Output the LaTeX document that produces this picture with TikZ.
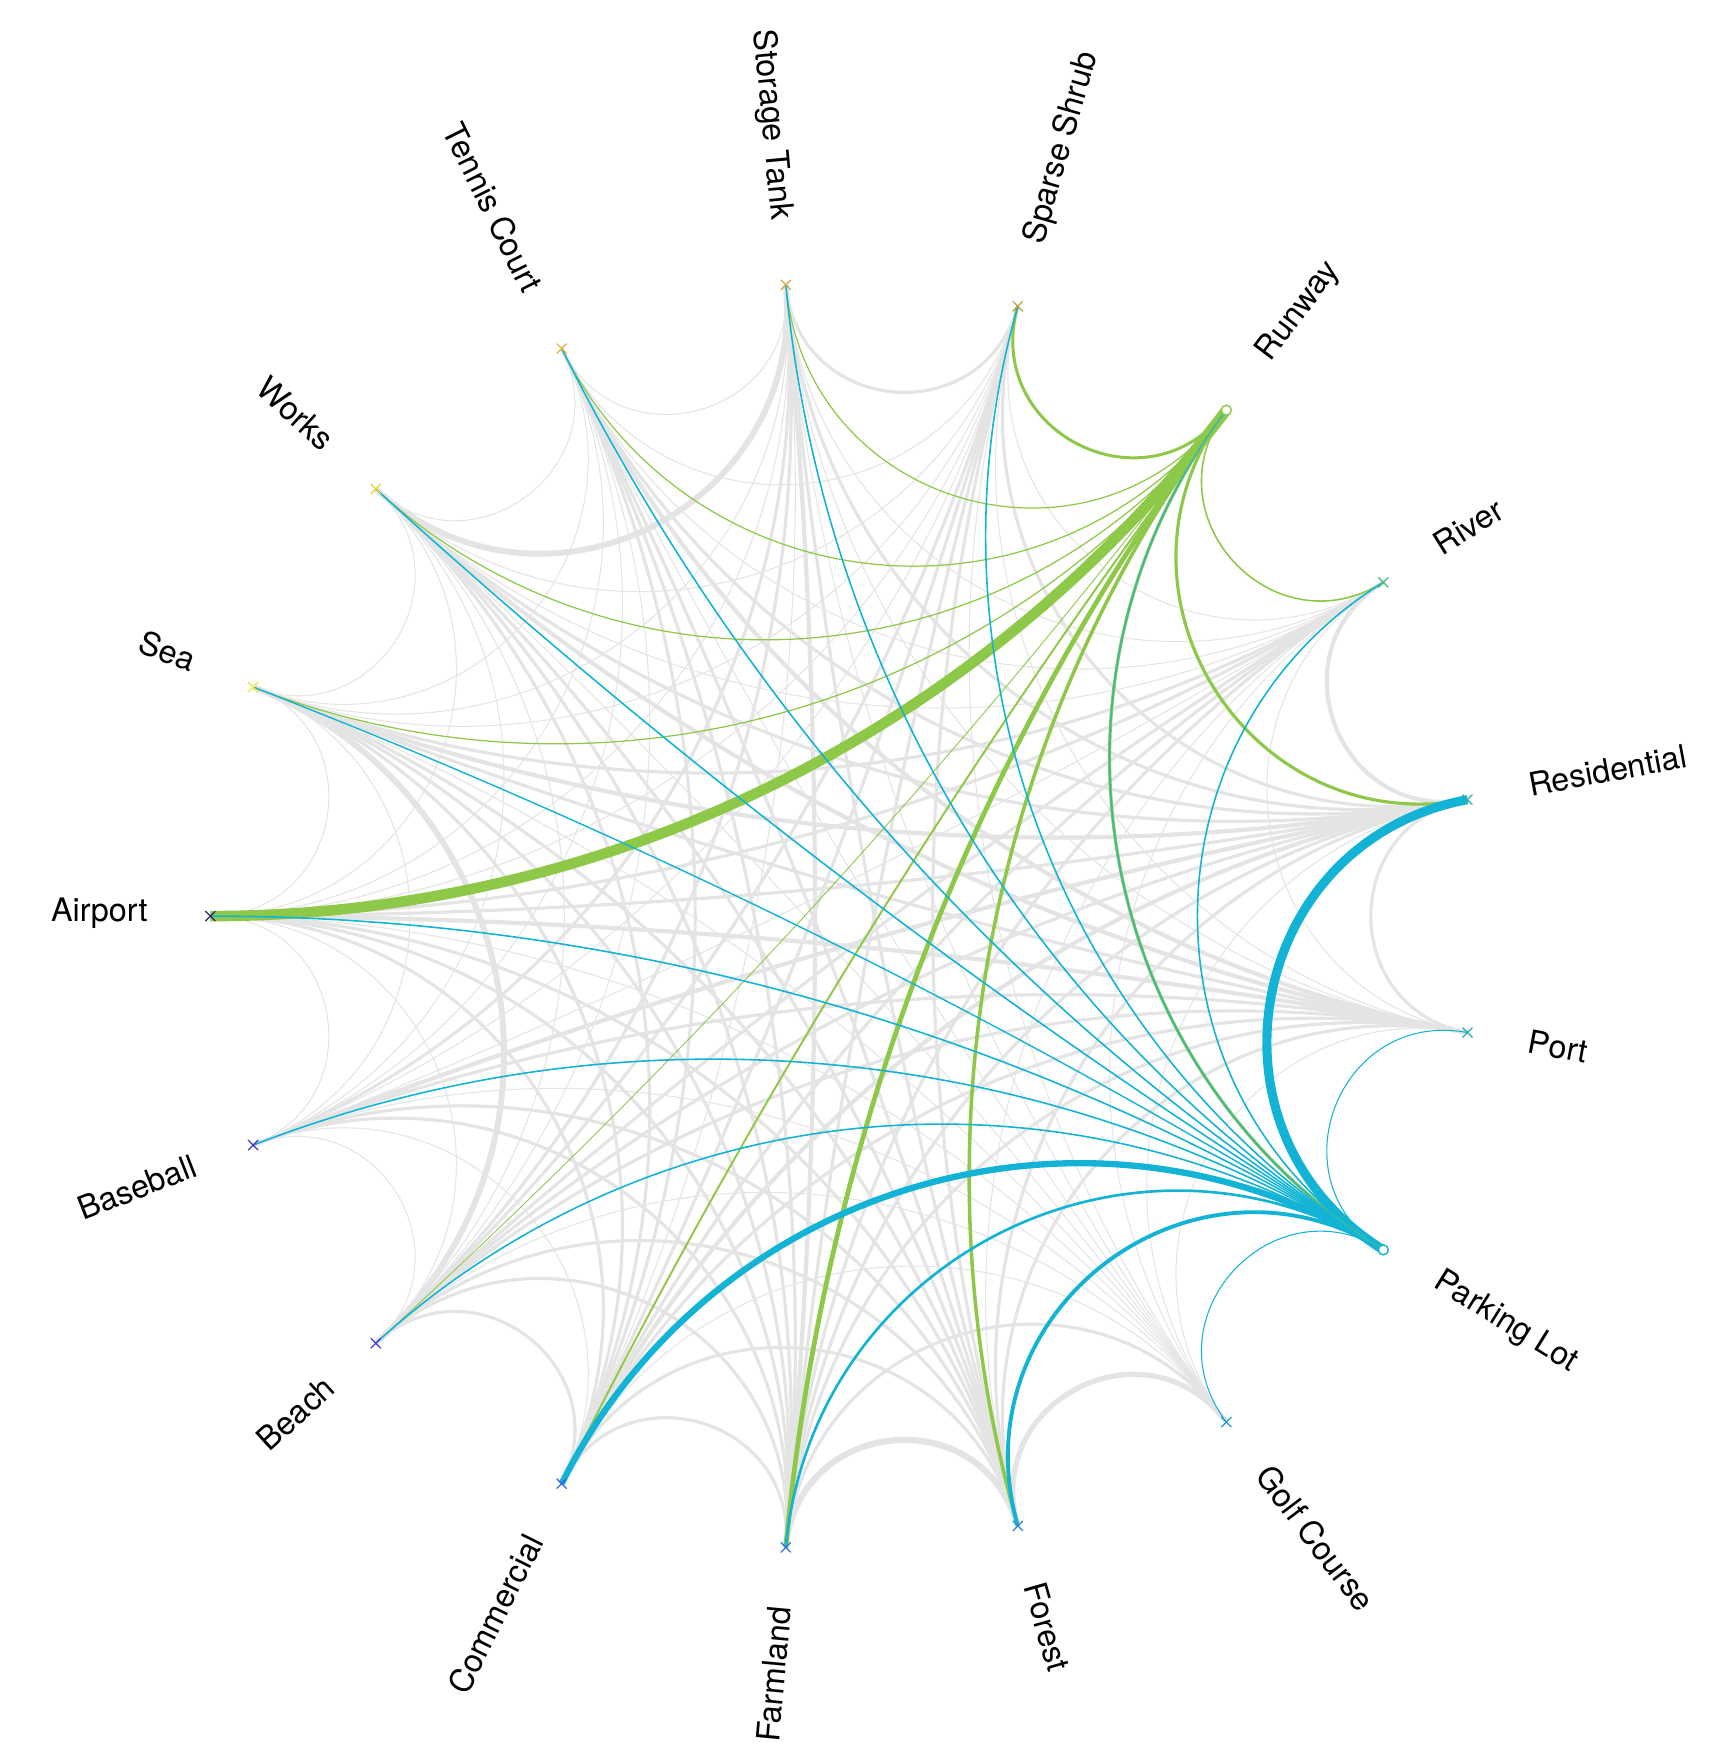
\documentclass[tikz,border=0pt]{standalone}
\usepackage{fontspec}
\setmainfont{TeX Gyre Heros}
\usetikzlibrary{calc}

\definecolor{linkgray}{RGB}{228,228,228}
\definecolor{rungreen}{RGB}{141,200,72}
\definecolor{parkblue}{RGB}{18,179,212}
% marker colours
\definecolor{cAirport}{RGB}{45,35,105}
\definecolor{cSea}{RGB}{240,232,60}
\definecolor{cWorks}{RGB}{232,212,55}
\definecolor{cTennis}{RGB}{228,180,55}
\definecolor{cStorage}{RGB}{212,168,62}
\definecolor{cSparse}{RGB}{192,160,62}
\definecolor{cRiver}{RGB}{60,190,120}
\definecolor{cResidential}{RGB}{40,182,160}
\definecolor{cPort}{RGB}{30,180,180}
\definecolor{cGolf}{RGB}{30,162,202}
\definecolor{cForest}{RGB}{40,140,205}
\definecolor{cFarmland}{RGB}{50,118,212}
\definecolor{cCommercial}{RGB}{50,100,220}
\definecolor{cBeach}{RGB}{70,62,210}
\definecolor{cBaseball}{RGB}{72,52,200}

% geodesic chord between two points of the circle
\newcommand\chord[3][]{%
  \pgfmathanglebetweenpoints{\pgfpointanchor{centre}{center}}{\pgfpointanchor{#2}{center}}\let\angA\pgfmathresult
  \pgfmathanglebetweenpoints{\pgfpointanchor{centre}{center}}{\pgfpointanchor{#3}{center}}\let\angB\pgfmathresult
  \pgfmathsetmacro\sh{abs(sin((\angA-\angB)/2))}%
  \pgfmathsetmacro\cl{4/3*\sh/(1+\sh)}%
  \draw[#1] (#2) .. controls ($(#2)!\cl!(centre)$) and ($(#3)!\cl!(centre)$) .. (#3);}

\tikzset{
  link/.style={draw=linkgray, line width=#1},
  link/.default=0.3pt,
  lab/.style={font=\fontsize{9.2}{11}\selectfont, inner sep=0pt},
  cross/.style={draw=#1, line width=0.35pt},
}

\begin{document}
\begin{tikzpicture}
  \useasboundingbox (-8.443,-8.419) rectangle (8.917,9.161);
  \def\R{6.34}
  \coordinate (centre) at (0,0);

  % points and labels
  \foreach \name/\txt [count=\k from 0] in {airport/Airport, sea/Sea, works/Works,
      tennis/Tennis Court, storage/Storage Tank, sparse/Sparse Shrub, runway/Runway,
      river/River, residential/Residential, port/Port, parking/Parking Lot,
      golf/Golf Course, forest/Forest, farmland/Farmland, commercial/Commercial,
      beach/Beach, baseball/Baseball} {
    \pgfmathsetmacro\ang{180-\k*360/17}
    \coordinate (\name) at (\ang:\R);
    \ifdim \ang pt>90pt
      \pgfmathsetmacro\rot{\ang-180}\def\anc{east}
    \else\ifdim \ang pt<-90pt
      \pgfmathsetmacro\rot{\ang+180}\def\anc{east}
    \else
      \pgfmathsetmacro\rot{\ang}\def\anc{west}
    \fi\fi
    \node[lab, rotate=\rot, anchor=\anc] (l-\name) at ($(\ang:6.96)+(0,0.03)$) {\txt};
  }

  % grey links, thin ones first
  \foreach \a [count=\i] in {airport,sea,works,tennis,storage,sparse,river,residential,port,golf,forest,farmland,commercial,beach,baseball} {
    \foreach \b [count=\j] in {airport,sea,works,tennis,storage,sparse,river,residential,port,golf,forest,farmland,commercial,beach,baseball} {
      \ifnum\j>\i \chord[link]{\a}{\b}\fi
    }
  }
  % heavier grey links
  \foreach \a/\b/\w in {
      storage/sparse/0.9, residential/port/0.9, farmland/commercial/0.9,
      commercial/beach/0.9, forest/commercial/0.9, golf/farmland/0.9,
      farmland/beach/0.9, airport/residential/0.9, works/residential/0.9,
      tennis/residential/0.9, storage/residential/0.9, sparse/residential/0.9,
      residential/forest/0.9, residential/farmland/0.9, residential/beach/0.9,
      port/forest/0.9, port/farmland/0.9, port/commercial/0.9, port/beach/0.9,
      port/baseball/0.9, sea/port/0.9, storage/forest/0.9, sparse/farmland/0.9,
      sparse/forest/0.9, sparse/commercial/0.9, tennis/farmland/0.9,
      tennis/forest/0.9, works/forest/0.9, works/farmland/0.9, airport/forest/0.9,
      airport/farmland/0.9, airport/commercial/0.9, sea/forest/0.9,
      sea/commercial/0.9, baseball/forest/0.9, baseball/farmland/0.9,
      beach/forest/0.9, river/commercial/0.9, river/farmland/0.9,
      river/airport/0.9, river/sea/0.9, river/beach/0.9, baseball/storage/0.9,
      beach/storage/0.9, beach/sparse/0.9, tennis/commercial/0.9,
      works/commercial/0.9, sea/farmland/0.9,
      river/residential/1.2, sea/residential/1.2, airport/port/1.2,
      storage/farmland/1.2, tennis/port/1.2, baseball/residential/1.2,
      commercial/residential/1.2, works/port/1.2,
      golf/forest/1.5,
      works/storage/1.7, sea/beach/1.7, forest/farmland/1.8} {
    \chord[link=\w pt]{\a}{\b}
  }

  % Runway links
  \foreach \b/\w in {airport/3.0, sea/0.35, works/0.35, tennis/0.35, storage/0.35,
      sparse/0.85, river/0.45, residential/0.9, forest/1.0, farmland/1.35,
      commercial/0.55, beach/0.25} {
    \chord[rungreen, line width=\w pt]{runway}{\b}
  }
  \chord[rungreen, line width=0.9pt]{runway}{parking}

  % Parking Lot links
  \foreach \b/\w in {airport/0.45, sea/0.4, works/0.45, tennis/0.45, storage/0.45,
      sparse/0.45, river/0.45, residential/2.6, port/0.3, golf/0.3, forest/1.1,
      farmland/0.75, commercial/1.8, beach/0.45, baseball/0.45} {
    \chord[parkblue, line width=\w pt]{parking}{\b}
  }
  \chord[parkblue!70!rungreen, line width=0.45pt]{parking}{runway}

  % markers
  \foreach \name/\col in {airport/cAirport, sea/cSea, works/cWorks, tennis/cTennis,
      storage/cStorage, sparse/cSparse, river/cRiver, residential/cResidential,
      port/cPort, golf/cGolf, forest/cForest, farmland/cFarmland,
      commercial/cCommercial, beach/cBeach, baseball/cBaseball} {
    \draw[cross=\col] (\name) +(-0.05,-0.05) -- +(0.05,0.05)
                              +(-0.05,0.05) -- +(0.05,-0.05);
  }
  \draw[rungreen, fill=white, line width=0.4pt] (runway) circle (0.05);
  \draw[parkblue, fill=white, line width=0.4pt] (parking) circle (0.05);
\end{tikzpicture}
\end{document}
